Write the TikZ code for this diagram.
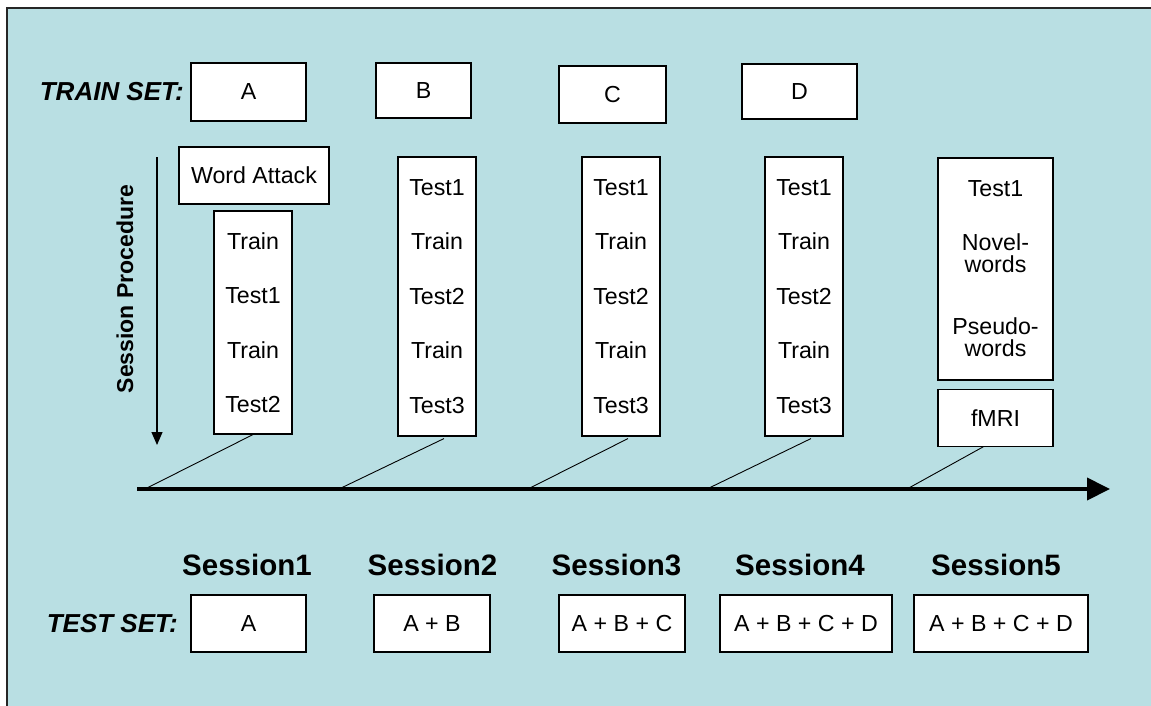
\documentclass[tikz,border=0pt]{standalone}
\usepackage{fontspec}
\setmainfont{Liberation Sans}
\usetikzlibrary{arrows.meta,positioning}
\definecolor{panelblue}{RGB}{185,223,227}
\tikzset{every node/.style={align=center}, >=latex,
  setbox/.style={draw, fill=white, line width=1.1pt, inner sep=0pt, font=\fontsize{23.2}{26}\selectfont},
  stepcol/.style={setbox, minimum width=78pt, font=\fontsize{23.2}{54.5}\selectfont},
  setlabel/.style={anchor=east, inner sep=0pt, font=\fontsize{26}{30}\selectfont\bfseries\itshape},
  sesslabel/.style={inner sep=0pt, font=\fontsize{29.5}{34}\selectfont\bfseries}}

\begin{document}
\begin{tikzpicture}[x=1pt, y=-1pt]
             \useasboundingbox (0,0) rectangle (1151,705);
             \fill[panelblue] (7,8) rectangle (1160,715);
             \draw[line width=2pt, black!85] (7,715) -- (7,8) -- (1160,8);

             % train sets
             \node [setlabel] (trainlbl) at (184,92) {TRAIN SET:};
             \node [setbox, minimum width=115pt, minimum height=58pt] (trA) at (248.5,92) {A};
             \node [setbox, minimum width=95pt, minimum height=55pt] (trB) at (423.5,90.5) {B};
             \node [setbox, minimum width=107pt, minimum height=57pt] (trC) at (612.5,94.5) {C};
             \node [setbox, minimum width=115pt, minimum height=55pt] (trD) at (799.5,91.5) {D};

             % session procedure
             \node [setbox, minimum width=150pt, minimum height=57pt] (wattack) at (254,175.5) {Word Attack};
             \node [stepcol, minimum height=223pt] (col1) at (253,322.5) {Train\\Test1\\Train\\Test2};
             \node [stepcol, minimum height=279pt] (col2) at (437,296.5) {Test1\\Train\\Test2\\Train\\Test3};
             \node [stepcol, minimum height=279pt] (col3) at (621,296.5) {Test1\\Train\\Test2\\Train\\Test3};
             \node [stepcol, minimum height=279pt] (col4) at (804,296.5) {Test1\\Train\\Test2\\Train\\Test3};
             \node [setbox, minimum width=115pt, minimum height=222pt, font=\fontsize{23.2}{22}\selectfont] (col5) at (995.5,269)
                {Test1\\[32pt]Novel-\\words\\[40pt]Pseudo-\\words};
             \node [setbox, minimum width=115pt, minimum height=57pt, below=8pt of col5] (fmri) {fMRI};

             \node [rotate=90, inner sep=0pt, font=\fontsize{23}{26}\selectfont\bfseries] (proclbl) at (125,289) {Session Procedure};
             \coordinate (proctop) at (157,157);
             \coordinate (procend) at (157,445);
             \draw [line width=1.2pt, -{Triangle[length=13pt,width=11pt]}] (proctop) -- (procend);

             % time line
             \coordinate (axstart) at (137,489);
             \coordinate (axend) at (1110,489);
             \coordinate (t1) at (145,489);
             \coordinate (t2) at (339,489);
             \coordinate (t3) at (528,489);
             \coordinate (t4) at (707,489);
             \coordinate (t5) at (907,489);
             \draw [line width=4pt, -{Triangle[length=23pt,width=22pt]}] (axstart) -- (axend);
             \draw [line width=0.9pt] (col1.south) -- (t1)
                ([xshift=7pt,yshift=-2pt]col2.south) -- (t2)
                ([xshift=7pt,yshift=-2pt]col3.south) -- (t3)
                ([xshift=7pt,yshift=-2pt]col4.south) -- (t4)
                ([xshift=-12pt]fmri.south) -- (t5);

             % sessions
             \node [sesslabel] (s1) at (247,565) {Session1};
             \node [sesslabel] (s2) at (432.5,565) {Session2};
             \node [sesslabel] (s3) at (616.5,565) {Session3};
             \node [sesslabel] (s4) at (800,565) {Session4};
             \node [sesslabel] (s5) at (996,565) {Session5};

             % test sets
             \node [setlabel] (testlbl) at (178,623.5) {TEST SET:};
             \node [setbox, minimum width=115pt, minimum height=57pt] (teA) at (248.5,623.5) {A};
             \node [setbox, minimum width=116pt, minimum height=57pt] (teAB) at (432,623.5) {A + B};
             \node [setbox, minimum width=126pt, minimum height=57pt] (teABC) at (622,623.5) {A + B + C};
             \node [setbox, minimum width=172pt, minimum height=57pt] (teABCD) at (806,623.5) {A + B + C + D};
             \node [setbox, minimum width=174pt, minimum height=57pt] (teABCDx) at (1001,623.5) {A + B + C + D};
         \end{tikzpicture}
\end{document}
